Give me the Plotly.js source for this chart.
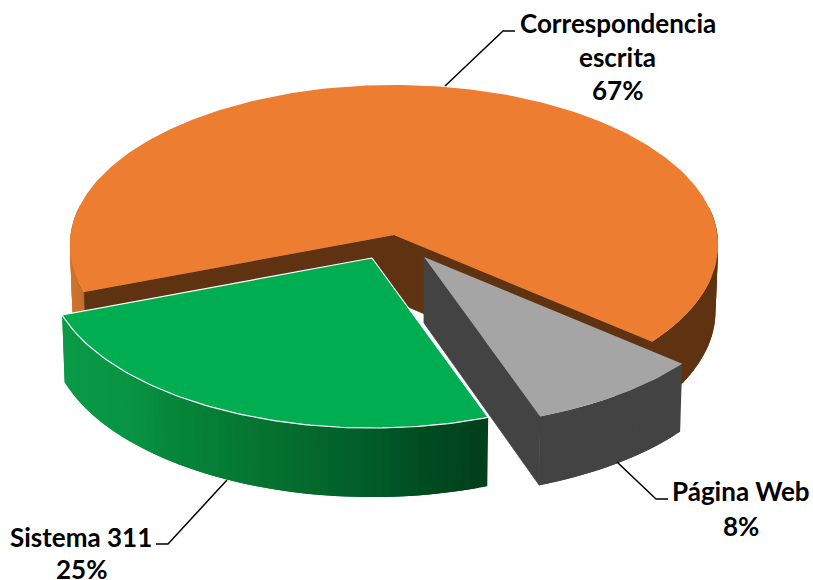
<!DOCTYPE html>
<html><head><meta charset="utf-8">
<script src="https://cdn.plot.ly/plotly-3.0.1.min.js"></script>
<style>html,body{margin:0;padding:0;background:#fff}</style>
</head><body><div id="chart" style="width:813px;height:580px"></div>
<script>
// data
const categories = ['Correspondencia escrita', 'Página Web', 'Sistema 311'];
const values = [66.8, 8.4, 24.8];
const labelBreaks = [['Correspondencia', 'escrita'], ['Página Web'], ['Sistema 311']];
// style
const topColors = ['#ED7D31', '#A5A5A5', '#00AD50'];
const cutColors = ['#5F3311', '#434343', null];
const wallStops = [
  [[70, '#CE742D'], [90, '#C06A28'], [600, '#5F3311'], [720, '#5F3311']],
  [[0, '#434343'], [813, '#434343']],
  [[60, '#0A9A47'], [130, '#089443'], [170, '#05873B'], [270, '#05722F'], [370, '#025C29'], [430, '#004A20'], [487, '#003F1B']]
];
const centers = [[394, 235], [424, 257], [372, 258]];
const outline = [null, null, '#FFFFFF'];
const labelPos = [[617.5, [23, 57, 90]], [741, [491, 526]], [81, [537, 569]]];
const leaders = [
  [[445, 503, 515], [86, 31, 31]],
  [[617, 656, 668], [462, 499, 499]],
  [[227, 168, 156], [480, 544, 544]]
];
// Geometry of the tilted disc
const RX = 323.5, RY = 159.4, P = 0.0625, DEPTH = 66, BOTTOM_SCALE = 0.992;
// Slice order round the disc, clockwise from the right-hand side
const sliceOrder = [1, 2, 0];
const START_DEG = 40;

function hex(c) { return [1, 3, 5].map(i => parseInt(c.substr(i, 2), 16)); }
function colorAt(stops, x) {
  if (x <= stops[0][0]) return stops[0][1];
  for (let i = 1; i < stops.length; i++) {
    if (x <= stops[i][0]) {
      const t = (x - stops[i - 1][0]) / (stops[i][0] - stops[i - 1][0]);
      const a = hex(stops[i - 1][1]), b = hex(stops[i][1]);
      return 'rgb(' + a.map((v, k) => Math.round(v + (b[k] - v) * t)).join(',') + ')';
    }
  }
  return stops[stops.length - 1][1];
}
function proj(c, deg, r, low) {
  const t = deg * Math.PI / 180, u = r * Math.cos(t), v = r * Math.sin(t), w = 1 - P * v;
  const s = low ? BOTTOM_SCALE : 1;
  return [c[0] + s * RX * u / w, c[1] + s * RY * v / w + (low ? DEPTH / w : 0)];
}
function poly(pts, fill, lineColor, lineWidth) {
  return {
    type: 'scatter', mode: 'lines', hoverinfo: 'skip', fill: 'toself', fillcolor: fill,
    x: pts.map(p => p[0]).concat([pts[0][0]]), y: pts.map(p => p[1]).concat([pts[0][1]]),
    line: { color: lineColor || fill, width: lineWidth === undefined ? 0 : lineWidth }
  };
}
const total = values.reduce((a, b) => a + b, 0);
let ang = START_DEG;
const spans = {};
sliceOrder.forEach(i => { const e = ang + values[i] / total * 360; spans[i] = [ang, e]; ang = e; });

const traces = [];
[0, 1, 2].forEach(i => {
  const c = centers[i], a0 = spans[i][0], a1 = spans[i][1];
  // outer wall: each section runs from its own angle to the end of the arc,
  // later ones painted over earlier ones, so no seams show between shades
  const step = 1.5;
  for (let a = a0; a < a1 - 1e-6; a += step) {
    const b = Math.min(a + step, a1);
    if (Math.sin(a * Math.PI / 180) < -0.15 && Math.sin(b * Math.PI / 180) < -0.15) continue;
    const mx = proj(c, (a + b) / 2, 1, false)[0];
    const col = colorAt(wallStops[i], mx);
    const e = Math.min(b + step, a1);
    const ring = [];
    for (let q = a; q < e; q += 0.5) ring.push(proj(c, q, 1, false));
    ring.push(proj(c, e, 1, false));
    const low = [];
    low.push(proj(c, e, 1, true));
    for (let q = e - 0.5; q > a; q -= 0.5) low.push(proj(c, q, 1, true));
    low.push(proj(c, a, 1, true));
    traces.push(poly(ring.concat(low), col));
  }
  // cut faces, with a hairline stroke that closes the join with the wall
  if (cutColors[i]) {
    const cuts = i === 0 ? [a0, a1] : [a1];
    cuts.forEach(a => traces.push(poly([proj(c, a, 0, false), proj(c, a, 1, false), proj(c, a, 1, true), proj(c, a, 0, true)], cutColors[i], cutColors[i], 0.8)));
  }
  // top face
  const pts = [proj(c, a0, 0, false)];
  for (let a = a0; a < a1; a += 1) pts.push(proj(c, a, 1, false));
  pts.push(proj(c, a1, 1, false));
  traces.push(poly(pts, topColors[i], outline[i] || topColors[i], outline[i] ? 1.2 : 0));
});
leaders.forEach(l => traces.push({
  type: 'scatter', mode: 'lines', hoverinfo: 'skip', x: l[0], y: l[1],
  line: { color: '#000000', width: 1.5 }
}));
const annotations = [];
categories.forEach((name, i) => {
  labelBreaks[i].concat([Math.round(values[i]) + '%']).forEach((t, k) => annotations.push({
    x: labelPos[i][0], y: labelPos[i][1][k], xref: 'x', yref: 'y', text: '<b>' + t + '</b>',
    showarrow: false, xanchor: 'center', yanchor: 'middle',
    font: { family: 'Lato, sans-serif', size: 26, color: '#000000' }
  }));
});
Plotly.newPlot('chart', traces, {
  width: 813, height: 580, margin: { l: 0, r: 0, t: 0, b: 0 }, showlegend: false,
  paper_bgcolor: '#FFFFFF', plot_bgcolor: '#FFFFFF',
  xaxis: { range: [0, 813], visible: false, fixedrange: true },
  yaxis: { range: [580, 0], visible: false, fixedrange: true },
  annotations: annotations
}, { displayModeBar: false, staticPlot: true });
</script></body></html>
